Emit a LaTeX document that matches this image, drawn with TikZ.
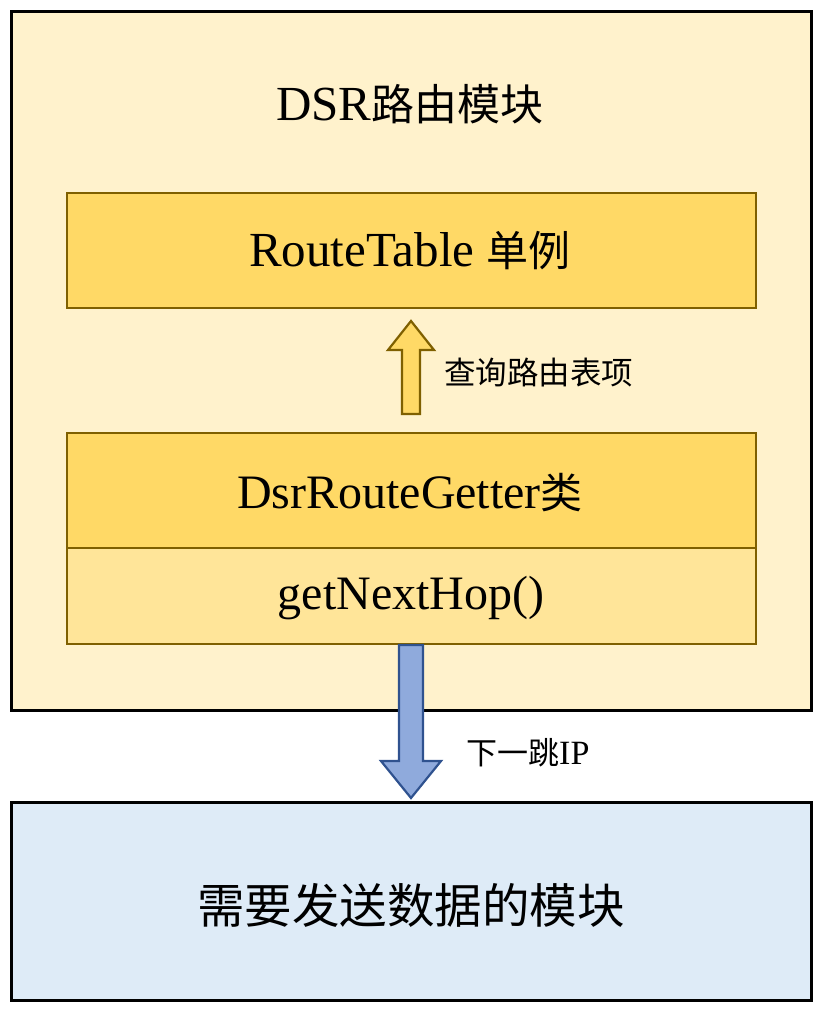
\documentclass[tikz,border=0pt]{standalone}
\usepackage{fontspec}
\setmainfont{Liberation Serif}
\newfontfamily\cjk{Noto Sans CJK SC}
\definecolor{outerfill}{HTML}{FFF2CC}
\definecolor{goldfill}{HTML}{FFD966}
\definecolor{lightgold}{HTML}{FFE599}
\definecolor{goldline}{HTML}{7F6000}
\definecolor{bluefill}{HTML}{8FAADC}
\definecolor{blueline}{HTML}{2F528F}
\definecolor{paleblue}{HTML}{DEEBF7}
\newcommand{\fs}[1]{\fontsize{#1}{#1}\selectfont}
\begin{document}
\begin{tikzpicture}[x=1pt,y=-1pt,
  bigbox/.style={draw=black,line width=3pt,inner sep=0pt},
  goldbox/.style={draw=goldline,line width=2.2pt,inner sep=0pt},
  lbl/.style={inner sep=0pt,anchor=west}]
\useasboundingbox (0,0) rectangle (825,1013);
% outer module
\draw[bigbox,fill=outerfill] (11,11) rectangle (811,710);
\node (title) at (410,104) {\fs{49}DSR{\cjk\fs{43}路由模块}};
% RouteTable
\draw[goldbox,fill=goldfill] (67,193) rectangle (756,308);
\node (rt) at (410,251) {\fs{49}RouteTable {\cjk\fs{42}单例}};
% DsrRouteGetter
\draw[goldbox,fill=goldfill] (67,433) rectangle (756,548);
\draw[goldbox,fill=lightgold] (67,548) rectangle (756,644);
\node (drg) at (410,493) {\fs{48}DsrRouteGetter{\cjk\fs{42}类}};
\node (gnh) at (411,598) {\fs{48}getNextHop()};
% up arrow
\draw[draw=goldline,fill=goldfill,line width=2.2pt,line join=miter]
  (402,414) -- (402,350) -- (388,350) -- (411,321) -- (434,350) -- (420,350) -- (420,414) -- cycle;
\node[lbl] (q) at (444,373) {\fs{31.5}\cjk 查询路由表项};
% down arrow
\draw[draw=blueline,fill=bluefill,line width=2.2pt,line join=miter]
  (399,645) -- (399,761) -- (381,761) -- (411,798) -- (441,761) -- (423,761) -- (423,645) -- cycle;
\node[lbl] (ip) at (466,753) {{\cjk\fs{31}下一跳}\fs{34}IP};
% bottom module
\draw[bigbox,fill=paleblue] (11,802) rectangle (811,1000);
\node (send) at (411,905) {\fs{47.5}\cjk 需要发送数据的模块};
\end{tikzpicture}
\end{document}
